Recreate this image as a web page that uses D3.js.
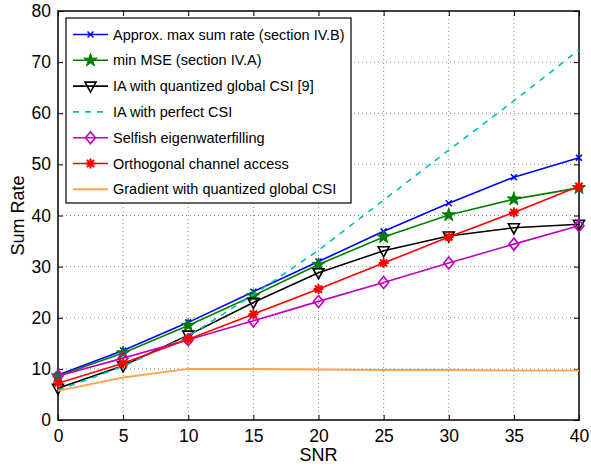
<!DOCTYPE html>
<html>
<head>
<meta charset="utf-8">
<script src="https://cdn.jsdelivr.net/npm/d3@7"></script>
<style>
  body { margin: 0; background: #fff; }
  svg { font-family: "Liberation Sans", Arial, sans-serif; }
</style>
</head>
<body>
<svg width="591" height="468"></svg>
<script>
const snr = [0, 5, 10, 15, 20, 25, 30, 35, 40];
const approxMaxSumRate = [8.8, 13.6, 19.1, 25.1, 31.0, 36.9, 42.4, 47.5, 51.3];
const minMse = [8.6, 13.1, 18.5, 24.3, 30.4, 35.8, 40.1, 43.2, 45.4];
const iaQuantized = [6.2, 10.6, 16.6, 23.0, 28.8, 33.1, 36.0, 37.6, 38.3];
const iaPerfect = [5.8, 10.5, 16.4, 24.5, 33.2, 43.0, 52.8, 62.4, 72.4];
const selfish = [8.6, 12.1, 15.7, 19.4, 23.2, 26.9, 30.7, 34.4, 38.0];
const orthogonal = [7.2, 11.1, 15.8, 20.7, 25.6, 30.7, 35.8, 40.6, 45.7];
const gradient = [5.7, 8.3, 10.0, 10.0, 9.9, 9.8, 9.8, 9.7, 9.7];
const xTicks = [0, 5, 10, 15, 20, 25, 30, 35, 40];
const yTicks = [0, 10, 20, 30, 40, 50, 60, 70, 80];

const series = [
  { name: "Approx. max sum rate (section IV.B)", values: approxMaxSumRate, color: "#0000ff", marker: "x" },
  { name: "min MSE (section IV.A)", values: minMse, color: "#008000", marker: "star" },
  { name: "IA with quantized global CSI [9]", values: iaQuantized, color: "#000000", marker: "tri" },
  { name: "IA with perfect CSI", values: iaPerfect, color: "#00bfbf", marker: null, dash: "6,6" },
  { name: "Selfish eigenwaterfilling", values: selfish, color: "#bf00bf", marker: "diamond" },
  { name: "Orthogonal channel access", values: orthogonal, color: "#ff0000", marker: "asterisk" },
  { name: "Gradient with quantized global CSI", values: gradient, color: "#ffa54f", marker: null }
];

const svg = d3.select("svg");
const mLeft = 58, mRight = 579, mTop = 11, mBottom = 420;
const x = d3.scaleLinear().domain([0, 40]).range([mLeft, mRight]);
const y = d3.scaleLinear().domain([0, 80]).range([mBottom, mTop]);

// grid
const grid = svg.append("g").attr("stroke", "#777").attr("stroke-width", 0.9).attr("stroke-dasharray", "1,3");
grid.selectAll(".gx").data(xTicks.slice(1, -1)).enter().append("line")
  .attr("x1", (d) => x(d)).attr("x2", (d) => x(d)).attr("y1", mTop).attr("y2", mBottom);
grid.selectAll(".gy").data(yTicks.slice(1, -1)).enter().append("line")
  .attr("x1", mLeft).attr("x2", mRight).attr("y1", (d) => y(d)).attr("y2", (d) => y(d));

// axes with inward ticks
const tk = 5;
const axB = svg.append("g").attr("transform", `translate(0,${mBottom})`)
  .call(d3.axisBottom(x).tickValues(xTicks).tickSizeInner(-tk).tickSizeOuter(0).tickPadding(10));
const axL = svg.append("g").attr("transform", `translate(${mLeft},0)`)
  .call(d3.axisLeft(y).tickValues(yTicks).tickSizeInner(-tk).tickSizeOuter(0).tickPadding(7));
const axT = svg.append("g").attr("transform", `translate(0,${mTop})`)
  .call(d3.axisTop(x).tickValues(xTicks).tickSizeInner(-tk).tickSizeOuter(0).tickFormat(""));
const axR = svg.append("g").attr("transform", `translate(${mRight},0)`)
  .call(d3.axisRight(y).tickValues(yTicks).tickSizeInner(-tk).tickSizeOuter(0).tickFormat(""));
[axB, axL, axT, axR].forEach((g) => {
  g.select(".domain").remove();
  g.selectAll("line").attr("stroke", "#000").attr("stroke-width", 1);
  g.selectAll("text").attr("font-size", 17.5).attr("fill", "#000")
    .attr("font-family", "Liberation Sans, Arial, sans-serif");
});
svg.append("rect").attr("x", mLeft).attr("y", mTop).attr("width", mRight - mLeft).attr("height", mBottom - mTop)
  .attr("fill", "none").attr("stroke", "#000").attr("stroke-width", 1.5);

svg.append("text").attr("x", (mLeft + mRight) / 2).attr("y", 461).attr("text-anchor", "middle")
  .attr("font-size", 18).text("SNR");
svg.append("text").attr("transform", `translate(24,${(mTop + mBottom) / 2}) rotate(-90)`)
  .attr("text-anchor", "middle").attr("font-size", 18).text("Sum Rate");

function drawMarker(g, type, color, cx, cy) {
  if (type === "x") {
    g.append("path").attr("d", `M${cx - 3},${cy - 3}L${cx + 3},${cy + 3}M${cx - 3},${cy + 3}L${cx + 3},${cy - 3}`)
      .attr("stroke", color).attr("stroke-width", 1.5).attr("fill", "none");
  } else if (type === "star") {
    g.append("path").attr("d", d3.symbol(d3.symbolStar, 55)()).attr("transform", `translate(${cx},${cy})`)
      .attr("fill", color).attr("stroke", color).attr("stroke-width", 1);
  } else if (type === "tri") {
    g.append("path").attr("d", `M${cx - 5.5},${cy - 4}L${cx + 5.5},${cy - 4}L${cx},${cy + 6}Z`)
      .attr("fill", "none").attr("stroke", color).attr("stroke-width", 1.6);
  } else if (type === "diamond") {
    g.append("path").attr("d", `M${cx},${cy - 6}L${cx + 5},${cy}L${cx},${cy + 6}L${cx - 5},${cy}Z`)
      .attr("fill", "none").attr("stroke", color).attr("stroke-width", 1.6);
  } else if (type === "asterisk") {
    g.append("path").attr("d", `M${cx},${cy - 5}L${cx},${cy + 5}M${cx - 5},${cy}L${cx + 5},${cy}` +
      `M${cx - 3.6},${cy - 3.6}L${cx + 3.6},${cy + 3.6}M${cx - 3.6},${cy + 3.6}L${cx + 3.6},${cy - 3.6}`)
      .attr("stroke", color).attr("stroke-width", 2).attr("fill", "none");
    g.append("circle").attr("cx", cx).attr("cy", cy).attr("r", 3).attr("fill", color);
  }
}

const line = d3.line().x((d, i) => x(snr[i])).y((d) => y(d));
const plot = svg.append("g");
series.forEach((s) => {
  const g = plot.append("g");
  g.append("path").attr("d", line(s.values)).attr("fill", "none").attr("stroke", s.color)
    .attr("stroke-width", s.marker || s.dash ? 1.6 : 2).attr("stroke-dasharray", s.dash || null);
  if (s.marker) s.values.forEach((v, i) => drawMarker(g, s.marker, s.color, x(snr[i]), y(v)));
});

// legend
const lg = svg.append("g");
lg.append("rect").attr("x", 66).attr("y", 18).attr("width", 285).attr("height", 185)
  .attr("fill", "#fff").attr("stroke", "#000").attr("stroke-width", 1.2);
series.forEach((s, i) => {
  const ly = 34.5 + i * 25.8;
  lg.append("line").attr("x1", 73).attr("x2", 108).attr("y1", ly).attr("y2", ly)
    .attr("stroke", s.color).attr("stroke-width", s.marker || s.dash ? 1.6 : 2)
    .attr("stroke-dasharray", s.dash || null);
  if (s.marker) drawMarker(lg, s.marker, s.color, 90.5, ly);
  lg.append("text").attr("x", 113).attr("y", ly + 5).attr("font-size", 14.5).text(s.name);
});
</script>
</body>
</html>
